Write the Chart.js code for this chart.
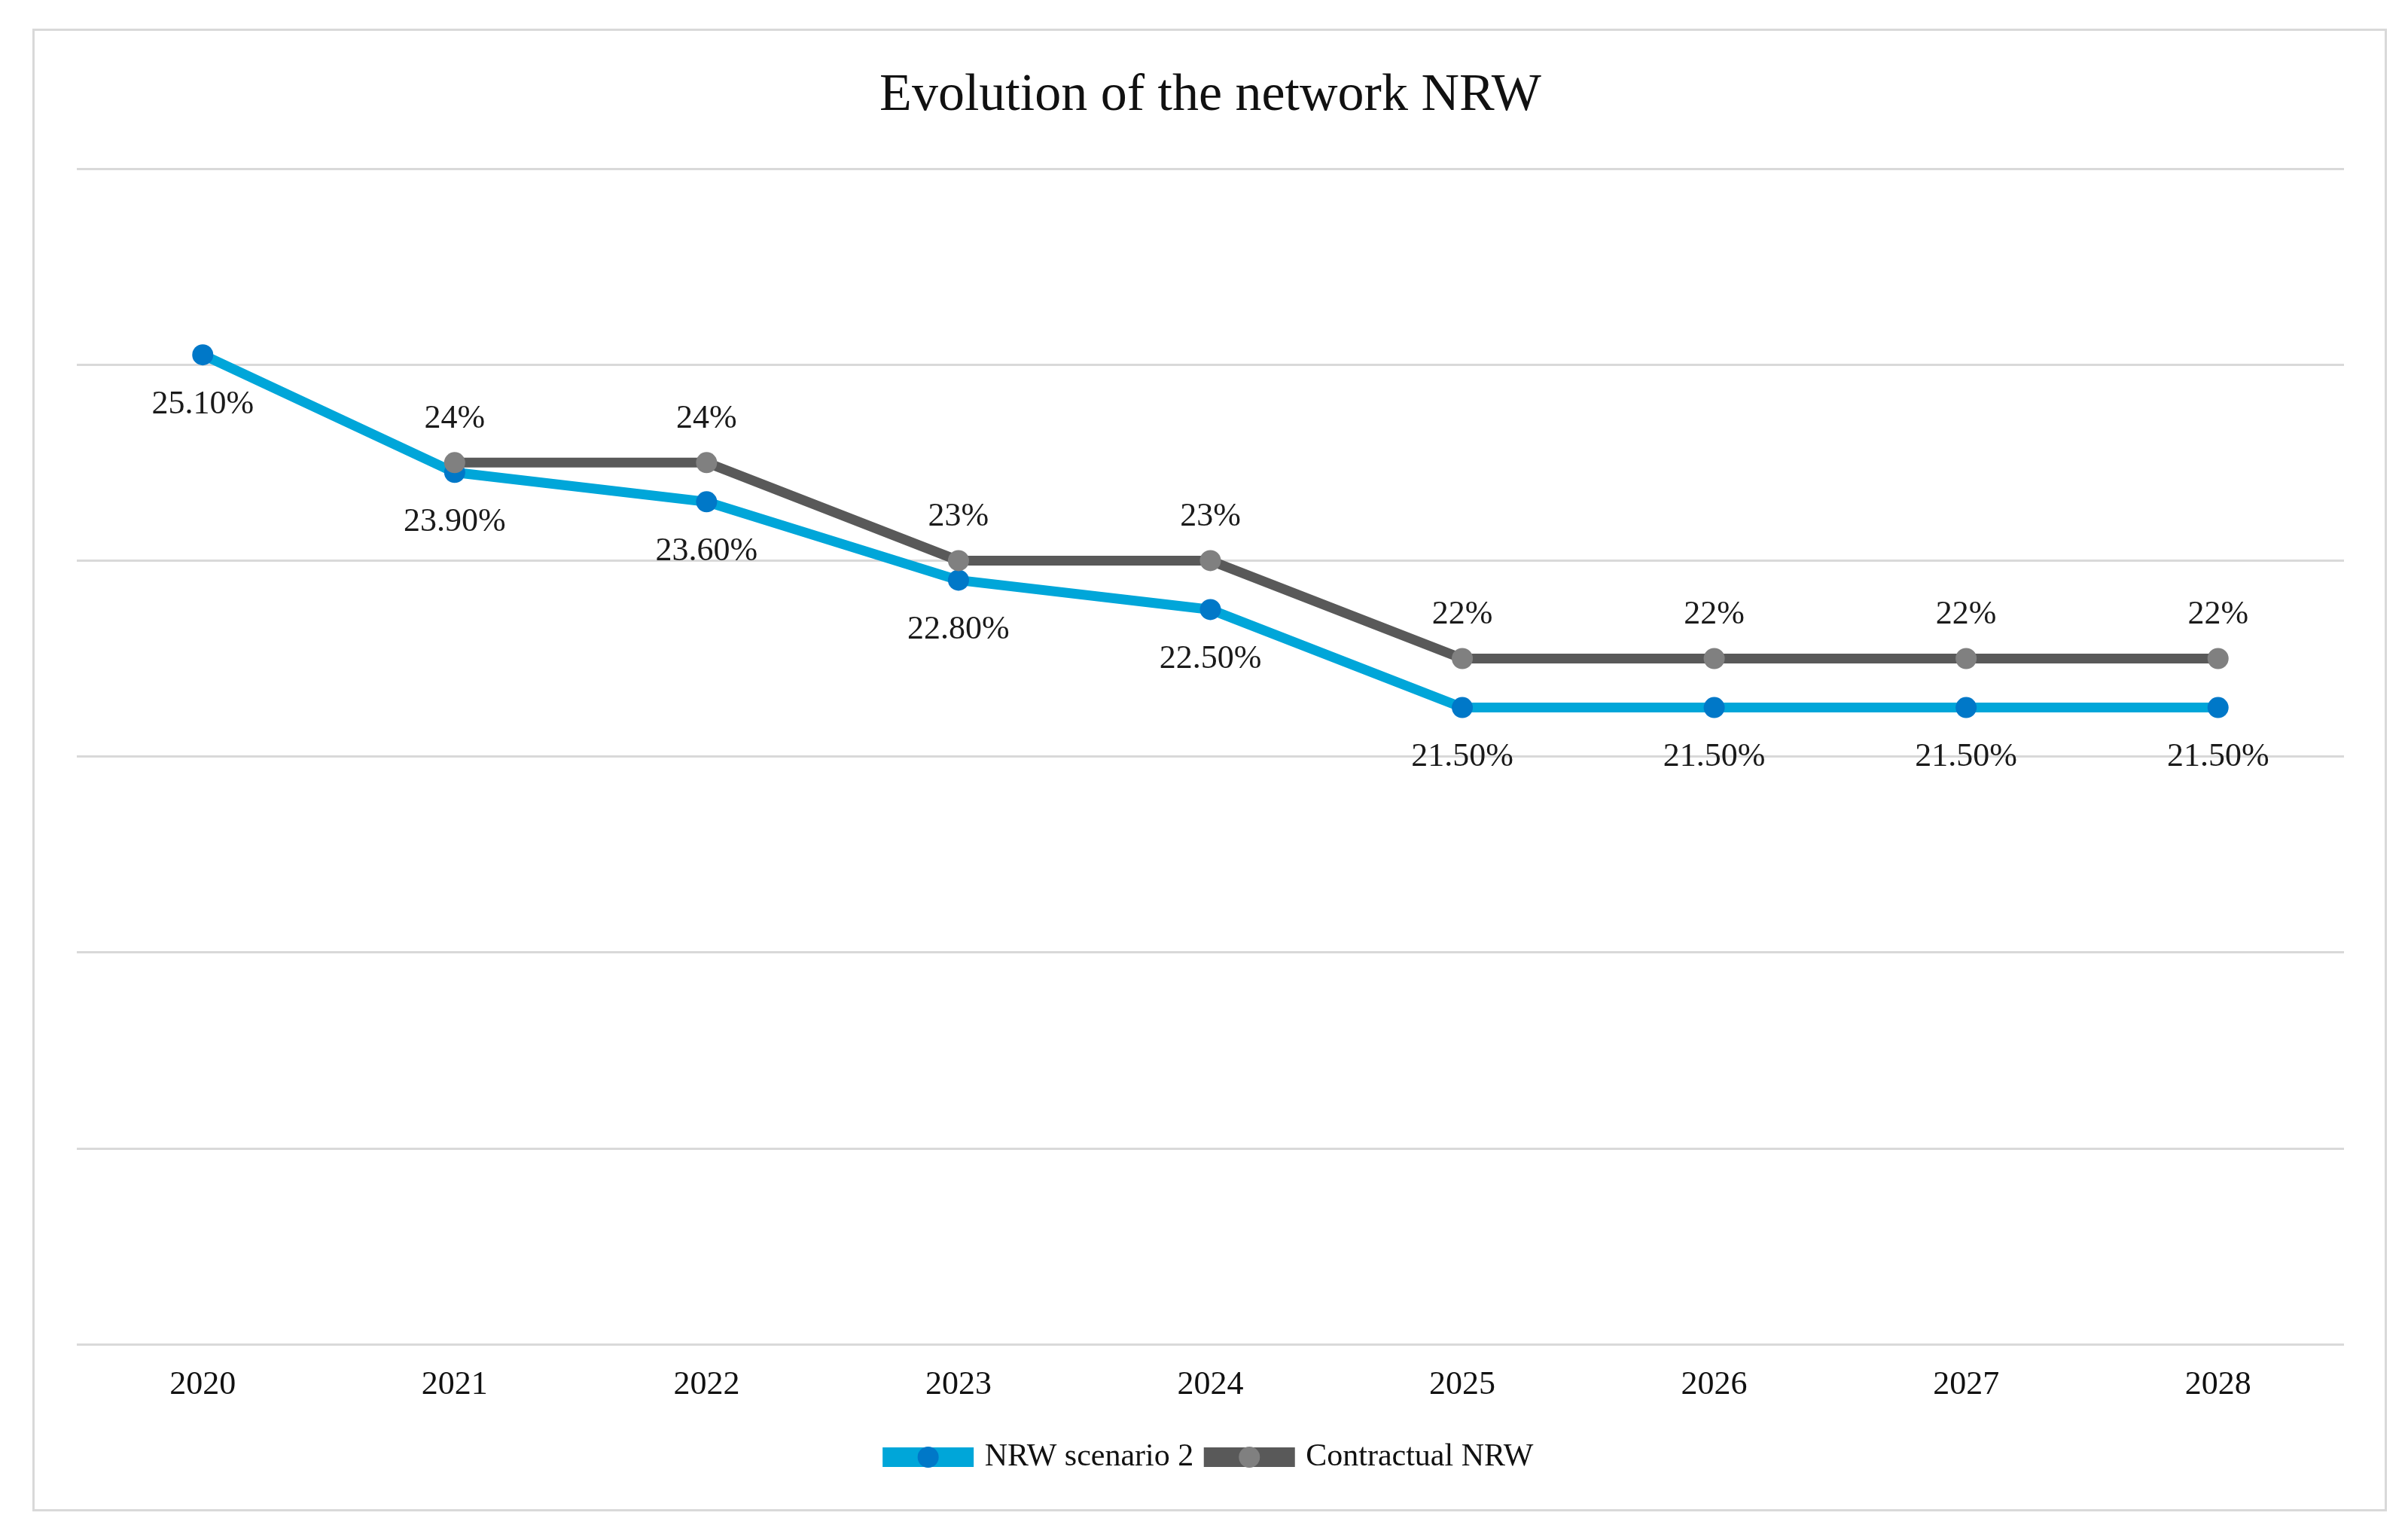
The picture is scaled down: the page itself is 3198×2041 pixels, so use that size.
<!DOCTYPE html>
<html>
<head>
<meta charset="utf-8">
<script src="https://cdn.jsdelivr.net/npm/chart.js@4.4.1/dist/chart.umd.min.js"></script>
<style>
    html, body { margin: 0; padding: 0; background: #fff; }
    #frame {
        position: absolute;
        left: 43px; top: 38px;
        width: 3121px; height: 1963px;
        border: 3px solid #d9d9d9;
    }
    #chart { display: block; }
</style>
</head>
<body>
<div id="frame"><canvas id="chart" width="3121" height="1963"></canvas></div>
<script>
// Data
const years = ['2020', '2021', '2022', '2023', '2024', '2025', '2026', '2027', '2028'];
const scenario2 = [25.1, 23.9, 23.6, 22.8, 22.5, 21.5, 21.5, 21.5, 21.5];
const contractual = [null, 24, 24, 23, 23, 22, 22, 22, 22];
const yMin = 15, yMax = 27, yStep = 2;

const blueLine = '#00a6d9';
const bluePoint = '#0078c8';
const grayLine = '#595959';
const grayPoint = '#808080';
const serif = '"Liberation Serif", "Times New Roman", serif';

// value labels: scenario below the point, contractual above
const valueLabels = {
    id: 'valueLabels',
    afterDatasetsDraw(chart) {
        const ctx = chart.ctx;
        ctx.save();
        ctx.font = '44px ' + serif;
        ctx.fillStyle = '#1a1a1a';
        ctx.textAlign = 'center';
        ctx.textBaseline = 'middle';
        chart.data.datasets.forEach((ds, i) => {
            const meta = chart.getDatasetMeta(i);
            meta.data.forEach((pt, j) => {
                const v = ds.data[j];
                if (v === null || v === undefined) return;
                if (ds.labelSide === 'below') {
                    ctx.fillText(v.toFixed(2) + '%', pt.x, pt.y + 66);
                } else {
                    ctx.fillText(v + '%', pt.x, pt.y - 58);
                }
            });
        });
        ctx.restore();
    }
};

// legend markers: a dot drawn on top of the line sample
const legendDots = {
    id: 'legendDots',
    afterDraw(chart) {
        const legend = chart.legend;
        if (!legend || !legend.legendHitBoxes) return;
        const ctx = chart.ctx;
        const boxW = legend.options.labels.boxWidth;
        legend.legendItems.forEach((item, i) => {
            const box = legend.legendHitBoxes[i];
            const ds = chart.data.datasets[item.datasetIndex];
            ctx.save();
            ctx.fillStyle = ds.pointBackgroundColor;
            ctx.beginPath();
            ctx.arc(box.left + boxW / 2, box.top + box.height / 2, 14, 0, Math.PI * 2);
            ctx.fill();
            ctx.restore();
        });
    }
};

new Chart(document.getElementById('chart').getContext('2d'), {
    type: 'line',
    data: {
        labels: years,
        datasets: [{
            label: 'NRW scenario 2',
            data: scenario2,
            borderColor: blueLine,
            backgroundColor: blueLine,
            borderWidth: 13,
            pointRadius: 14,
            pointBorderWidth: 0,
            pointBackgroundColor: bluePoint,
            pointBorderColor: bluePoint,
            tension: 0,
            labelSide: 'below',
            order: 1
        }, {
            label: 'Contractual NRW',
            data: contractual,
            borderColor: grayLine,
            backgroundColor: grayLine,
            borderWidth: 13,
            pointRadius: 14,
            pointBorderWidth: 0,
            pointBackgroundColor: grayPoint,
            pointBorderColor: grayPoint,
            tension: 0,
            labelSide: 'above',
            order: 0
        }]
    },
    options: {
        responsive: false,
        animation: false,
        devicePixelRatio: 1,
        layout: {
            padding: { left: 56, right: 54, top: 0, bottom: 38 }
        },
        plugins: {
            title: {
                display: true,
                text: 'Evolution of the network NRW',
                color: '#111',
                font: { family: serif, size: 70, weight: 'normal' },
                padding: { top: 45, bottom: 54 }
            },
            legend: {
                position: 'bottom',
                labels: {
                    sort: (a, b) => a.datasetIndex - b.datasetIndex,
                    boxWidth: 108,
                    boxHeight: 13,
                    padding: 20,
                    color: '#111',
                    font: { family: serif, size: 42 }
                }
            },
            tooltip: { enabled: false }
        },
        scales: {
            x: {
                offset: true,
                grid: { display: false, drawTicks: false },
                border: { display: false },
                ticks: {
                    padding: 28,
                    color: '#111',
                    font: { family: serif, size: 44 }
                }
            },
            y: {
                min: yMin,
                max: yMax,
                ticks: { stepSize: yStep, display: false },
                grid: { color: '#d9d9d9', lineWidth: 3, drawTicks: false },
                border: { display: false }
            }
        }
    },
    plugins: [valueLabels, legendDots]
});
</script>
</body>
</html>
